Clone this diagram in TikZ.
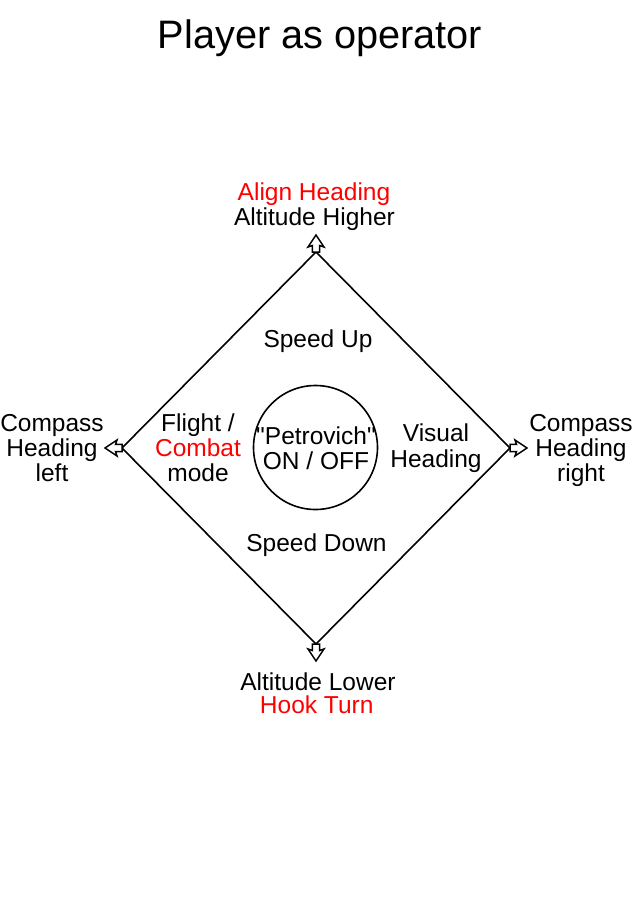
\documentclass[tikz,border=0pt]{standalone}
\usepackage{fontspec}
\setmainfont{Liberation Sans}[Ligatures=TeXOff]
\usetikzlibrary{calc}
\definecolor{hred}{RGB}{255,0,0}
\tikzset{
  lbl/.style={anchor=base,inner sep=0pt,align=center,font=\fontsize{24.5}{25}\selectfont},
  edge/.style={line width=1.6pt,draw=black},
  ahead/.pic={\draw[fill=white,line width=1.5pt,line join=miter] (0,0) -- (8,12) -- (3.6,10.5) -- (3.6,17) -- (-3.6,17) -- (-3.6,10.5) -- (-8,12) -- cycle;}
}
\begin{document}
\begin{tikzpicture}[x=1pt,y=-1pt]
\useasboundingbox (0,0) rectangle (637,900);
\node[anchor=base,inner sep=0pt,font=\fontsize{39.7}{42}\selectfont] (title) at (320,48) {Player as operator};
% diamond vertices
\coordinate (T) at (316,252);
\coordinate (B) at (316,644);
\coordinate (L) at (122,448);
\coordinate (R) at (510,448);
\draw[edge] (T) -- (L);
\draw[edge] (L) -- (B);
\draw[edge] (B) -- (R);
\draw[edge] (R) -- (T);
% arrowheads
\pic at ($(T)+(0,-17)$) {ahead};
\pic[rotate=180] at ($(B)+(0,17)$) {ahead};
\pic[rotate=90] at ($(L)+(-17,0)$) {ahead};
\pic[rotate=-90] at ($(R)+(17,0)$) {ahead};
% centre circle
\node[draw,circle,line width=1.6pt,minimum size=124pt,inner sep=0pt] (ctr) at (315.5,447.5) {};
\node[lbl] (petro) at (316,469) {"Petrovich"\\ON / OFF};
% labels
\node[lbl,text=hred] (align) at (314,200.7) {Align Heading};
\node[lbl] (alth) at (314.5,225) {Altitude Higher};
\node[lbl] (sup) at (318,347) {Speed Up};
\node[lbl] (cl) at (52,481.5) {Compass\\Heading\\left};
\node[lbl] (flight) at (198,481.5) {Flight /\\\textcolor{hred}{Combat}\\mode};
\node[lbl,font=\fontsize{24.5}{26.5}\selectfont] (vis) at (436,467.5) {Visual\\Heading};
\node[lbl] (cr) at (581,481.5) {Compass\\Heading\\right};
\node[lbl] (sdown) at (316.5,551.7) {Speed Down};
\node[lbl] (altl) at (318,690.7) {Altitude Lower};
\node[lbl,text=hred] (hook) at (316.7,713.5) {Hook Turn};
\end{tikzpicture}
\end{document}
